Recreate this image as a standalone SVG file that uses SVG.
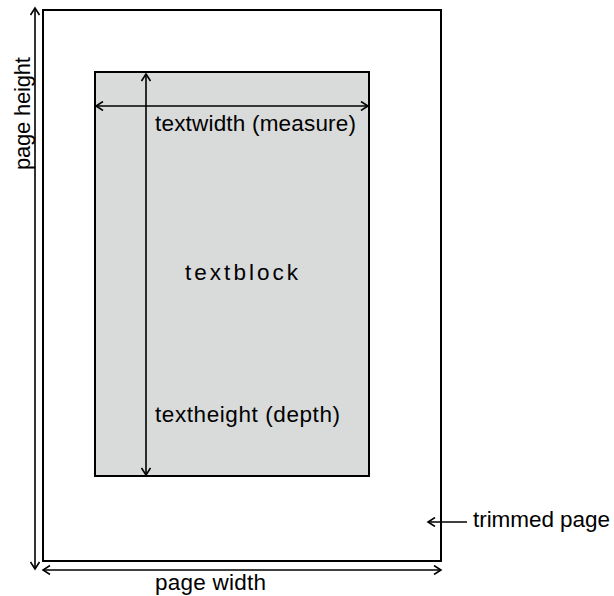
<svg xmlns="http://www.w3.org/2000/svg" width="614" height="596" viewBox="0 0 614 596">
<style>
.frame{fill:none;stroke:#000;stroke-width:2}
.block{fill:#d9dada;stroke:#000;stroke-width:2}
.dim{stroke:#000;stroke-width:1.6;fill:none;marker-start:url(#h);marker-end:url(#h)}
.one{stroke:#000;stroke-width:1.6;fill:none;marker-end:url(#h)}
text{font-family:"Liberation Sans",Arial,sans-serif;font-size:22.5px;fill:#000}
</style>
<defs>
<marker id="h" viewBox="-8 -5 10 10" markerWidth="10" markerHeight="10" refX="0" refY="0" orient="auto-start-reverse" markerUnits="userSpaceOnUse">
<path d="M-7,-4.5 L0,0 L-7,4.5" fill="none" stroke="#000" stroke-width="1.6"/>
</marker>
</defs>
<g id="page"><rect class="frame" x="43" y="10" width="398" height="551"/></g>
<g id="textblock"><rect class="block" x="95" y="72" width="274" height="404"/>
<text x="185" y="280" textLength="113">textblock</text></g>
<g id="connectors">
<line class="dim" x1="35" y1="8" x2="35" y2="569"/>
<line class="dim" x1="43" y1="570" x2="441" y2="570"/>
<line class="dim" x1="96" y1="106" x2="368" y2="106"/>
<line class="dim" x1="146" y1="74" x2="146" y2="475"/>
<line class="one" x1="467" y1="522" x2="428" y2="522"/>
</g>
<g id="labels">
<text x="155" y="131" textLength="201">textwidth (measure)</text>
<text x="155" y="422" textLength="185">textheight (depth)</text>
<text x="155" y="590" textLength="111">page width</text>
<text x="473" y="527" textLength="137">trimmed page</text>
<text transform="translate(30,170) rotate(-90)" style="font-size:22px" textLength="113">page height</text>
</g>
</svg>
